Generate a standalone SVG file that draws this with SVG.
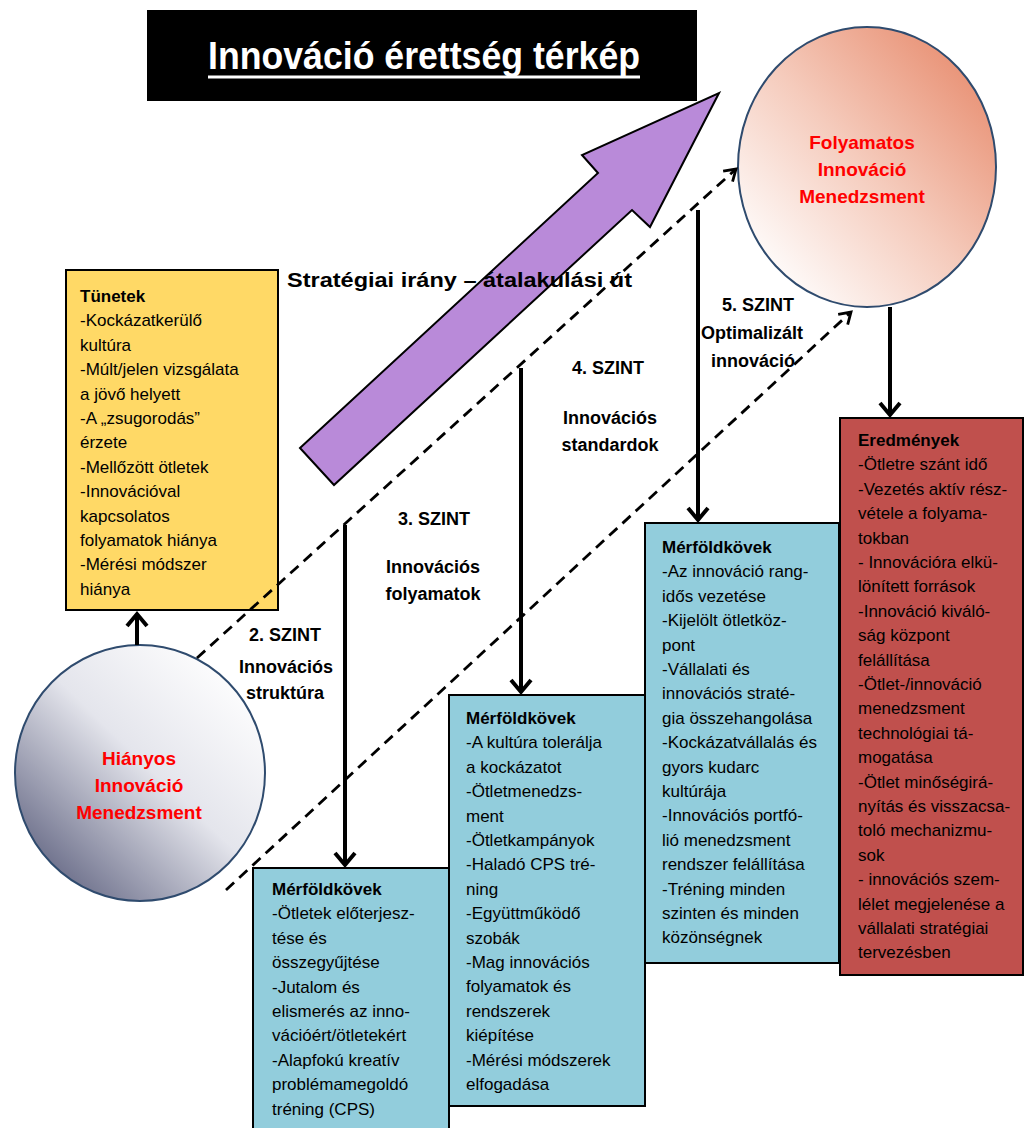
<svg xmlns="http://www.w3.org/2000/svg" width="1025" height="1128" viewBox="0 0 1025 1128">
  <defs>
    <linearGradient id="gradLow" x1="0.9" y1="0.1" x2="0.1" y2="0.95">
      <stop offset="0" stop-color="#FFFFFF"/>
      <stop offset="0.45" stop-color="#E4E5EC"/>
      <stop offset="1" stop-color="#5D607E"/>
    </linearGradient>
    <linearGradient id="gradHigh" x1="0.1" y1="0.9" x2="0.9" y2="0.1">
      <stop offset="0" stop-color="#FFFFFF"/>
      <stop offset="0.5" stop-color="#F5CBBC"/>
      <stop offset="1" stop-color="#E88F72"/>
    </linearGradient>
    <marker id="headSolid" markerUnits="userSpaceOnUse" orient="auto" markerWidth="30" markerHeight="30" refX="0" refY="0" viewBox="-15 -15 30 30" overflow="visible">
      <path d="M -12 -10 L 0 0 L -12 10" fill="none" stroke="#000" stroke-width="4"/>
    </marker>
    <marker id="headDash" markerUnits="userSpaceOnUse" orient="auto" markerWidth="24" markerHeight="24" refX="0" refY="0" viewBox="-12 -12 24 24" overflow="visible">
      <path d="M -11 -7 L 0 0 L -11 7" fill="none" stroke="#000" stroke-width="2.8"/>
    </marker>
  </defs>
  <style>
    .txt { font-family: "Liberation Sans", Arial, sans-serif; font-size: 17px; fill: #000; }
    .hd { font-weight: bold; }
    .lvl { font-family: "Liberation Sans", Arial, sans-serif; font-size: 18px; font-weight: bold; fill: #000; text-anchor: middle; }
    .circ { font-family: "Liberation Sans", Arial, sans-serif; font-size: 19px; font-weight: bold; fill: #FF0000; text-anchor: middle; }
    .box { stroke: #000; stroke-width: 2; }
    .yellow { fill: #FFD966; }
    .blue { fill: #92CDDC; }
    .red { fill: #C0504D; }
    .ring { stroke: #2F4B6E; stroke-width: 2; }
    .solid { fill: none; stroke: #000; stroke-width: 4; marker-end: url(#headSolid); }
    .dash { fill: none; stroke: #000; stroke-width: 2.8; stroke-dasharray: 11 7; marker-end: url(#headDash); }
  </style>

  <rect width="1025" height="1128" fill="#FFFFFF"/>

  <!-- title banner -->
  <g id="title">
    <rect x="147" y="10" width="550" height="91" fill="#000"/>
    <text x="208" y="69" font-family="'Liberation Sans', Arial, sans-serif" font-size="38" font-weight="bold" fill="#FFF" textLength="432" lengthAdjust="spacingAndGlyphs">Innováció érettség térkép</text>
    <line x1="208" y1="77" x2="640" y2="77" stroke="#FFF" stroke-width="3"/>
  </g>

  <!-- strategic direction arrow -->
  <g id="strategy-arrow">
    <polygon points="300,448 598,173 582,155 719,93 650,227 632,210 334,485" fill="#B98AD9" stroke="#000" stroke-width="2"/>
  </g>

  <!-- symptoms -->
  <g id="symptoms">
    <rect class="box yellow" x="66" y="270" width="212" height="340"/>
    <text class="txt" x="80" y="302">
      <tspan class="hd" x="80">Tünetek</tspan>
      <tspan x="80" dy="24.4">-Kockázatkerülő</tspan>
      <tspan x="80" dy="24.4">kultúra</tspan>
      <tspan x="80" dy="24.4">-Múlt/jelen vizsgálata</tspan>
      <tspan x="80" dy="24.4">a jövő helyett</tspan>
      <tspan x="80" dy="24.4">-A „zsugorodás”</tspan>
      <tspan x="80" dy="24.4">érzete</tspan>
      <tspan x="80" dy="24.4">-Mellőzött ötletek</tspan>
      <tspan x="80" dy="24.4">-Innovációval</tspan>
      <tspan x="80" dy="24.4">kapcsolatos</tspan>
      <tspan x="80" dy="24.4">folyamatok hiánya</tspan>
      <tspan x="80" dy="24.4">-Mérési módszer</tspan>
      <tspan x="80" dy="24.4">hiánya</tspan>
    </text>
  </g>

  <!-- level 2 milestones -->
  <g id="milestones-2">
    <rect class="box blue" x="253" y="868" width="196" height="270"/>
    <text class="txt" x="272" y="895">
      <tspan class="hd" x="272">Mérföldkövek</tspan>
      <tspan x="272" dy="24.4">-Ötletek előterjesz-</tspan>
      <tspan x="272" dy="24.4">tése és</tspan>
      <tspan x="272" dy="24.4">összegyűjtése</tspan>
      <tspan x="272" dy="24.4">-Jutalom és</tspan>
      <tspan x="272" dy="24.4">elismerés az inno-</tspan>
      <tspan x="272" dy="24.4">vációért/ötletekért</tspan>
      <tspan x="272" dy="24.4">-Alapfokú kreatív</tspan>
      <tspan x="272" dy="24.4">problémamegoldó</tspan>
      <tspan x="272" dy="24.4">tréning (CPS)</tspan>
    </text>
  </g>

  <!-- level 3 milestones -->
  <g id="milestones-3">
    <rect class="box blue" x="449" y="695" width="196" height="411"/>
    <text class="txt" x="466" y="724">
      <tspan class="hd" x="466">Mérföldkövek</tspan>
      <tspan x="466" dy="24.4">-A kultúra tolerálja</tspan>
      <tspan x="466" dy="24.4">a kockázatot</tspan>
      <tspan x="466" dy="24.4">-Ötletmenedzs-</tspan>
      <tspan x="466" dy="24.4">ment</tspan>
      <tspan x="466" dy="24.4">-Ötletkampányok</tspan>
      <tspan x="466" dy="24.4">-Haladó CPS tré-</tspan>
      <tspan x="466" dy="24.4">ning</tspan>
      <tspan x="466" dy="24.4">-Együttműködő</tspan>
      <tspan x="466" dy="24.4">szobák</tspan>
      <tspan x="466" dy="24.4">-Mag innovációs</tspan>
      <tspan x="466" dy="24.4">folyamatok és</tspan>
      <tspan x="466" dy="24.4">rendszerek</tspan>
      <tspan x="466" dy="24.4">kiépítése</tspan>
      <tspan x="466" dy="24.4">-Mérési módszerek</tspan>
      <tspan x="466" dy="24.4">elfogadása</tspan>
    </text>
  </g>

  <!-- level 4 milestones -->
  <g id="milestones-4">
    <rect class="box blue" x="645" y="523" width="194" height="440"/>
    <text class="txt" x="662" y="553">
      <tspan class="hd" x="662">Mérföldkövek</tspan>
      <tspan x="662" dy="24.4">-Az innováció rang-</tspan>
      <tspan x="662" dy="24.4">idős vezetése</tspan>
      <tspan x="662" dy="24.4">-Kijelölt ötletköz-</tspan>
      <tspan x="662" dy="24.4">pont</tspan>
      <tspan x="662" dy="24.4">-Vállalati és</tspan>
      <tspan x="662" dy="24.4">innovációs straté-</tspan>
      <tspan x="662" dy="24.4">gia összehangolása</tspan>
      <tspan x="662" dy="24.4">-Kockázatvállalás és</tspan>
      <tspan x="662" dy="24.4">gyors kudarc</tspan>
      <tspan x="662" dy="24.4">kultúrája</tspan>
      <tspan x="662" dy="24.4">-Innovációs portfó-</tspan>
      <tspan x="662" dy="24.4">lió menedzsment</tspan>
      <tspan x="662" dy="24.4">rendszer felállítása</tspan>
      <tspan x="662" dy="24.4">-Tréning minden</tspan>
      <tspan x="662" dy="24.4">szinten és minden</tspan>
      <tspan x="662" dy="24.4">közönségnek</tspan>
    </text>
  </g>

  <!-- results -->
  <g id="results">
    <rect class="box red" x="840" y="418" width="183" height="557"/>
    <text class="txt" x="858" y="446">
      <tspan class="hd" x="858">Eredmények</tspan>
      <tspan x="858" dy="24.4">-Ötletre szánt idő</tspan>
      <tspan x="858" dy="24.4">-Vezetés aktív rész-</tspan>
      <tspan x="858" dy="24.4">vétele a folyama-</tspan>
      <tspan x="858" dy="24.4">tokban</tspan>
      <tspan x="858" dy="24.4">- Innovációra elkü-</tspan>
      <tspan x="858" dy="24.4">lönített források</tspan>
      <tspan x="858" dy="24.4">-Innováció kiváló-</tspan>
      <tspan x="858" dy="24.4">ság központ</tspan>
      <tspan x="858" dy="24.4">felállítása</tspan>
      <tspan x="858" dy="24.4">-Ötlet-/innováció</tspan>
      <tspan x="858" dy="24.4">menedzsment</tspan>
      <tspan x="858" dy="24.4">technológiai tá-</tspan>
      <tspan x="858" dy="24.4">mogatása</tspan>
      <tspan x="858" dy="24.4">-Ötlet minőségirá-</tspan>
      <tspan x="858" dy="24.4">nyítás és visszacsa-</tspan>
      <tspan x="858" dy="24.4">toló mechanizmu-</tspan>
      <tspan x="858" dy="24.4">sok</tspan>
      <tspan x="858" dy="24.4">- innovációs szem-</tspan>
      <tspan x="858" dy="24.4">lélet megjelenése a</tspan>
      <tspan x="858" dy="24.4">vállalati stratégiai</tspan>
      <tspan x="858" dy="24.4">tervezésben</tspan>
    </text>
  </g>

  <!-- starting state -->
  <g id="state-low">
    <ellipse class="ring" cx="140" cy="773" rx="125" ry="128" fill="url(#gradLow)"/>
    <text class="circ" x="139" y="765">Hiányos</text>
    <text class="circ" x="139" y="792">Innováció</text>
    <text class="circ" x="139" y="819">Menedzsment</text>
  </g>

  <!-- target state -->
  <g id="state-high">
    <ellipse class="ring" cx="867" cy="167" rx="129" ry="140" fill="url(#gradHigh)"/>
    <text class="circ" x="862" y="149">Folyamatos</text>
    <text class="circ" x="862" y="176">Innováció</text>
    <text class="circ" x="862" y="203">Menedzsment</text>
  </g>

  <!-- connectors -->
  <g id="connectors">
    <path class="dash" d="M 197 658 L 736 169"/>
    <path class="dash" d="M 226 890 L 851 312"/>
    <path class="solid" d="M 137 645 L 137 614"/>
    <path class="solid" d="M 345 525 L 345 865"/>
    <path class="solid" d="M 521 368 L 521 692"/>
    <path class="solid" d="M 698 210 L 698 520"/>
    <path class="solid" d="M 890 307 L 890 415"/>
  </g>

  <!-- level labels -->
  <g id="labels">
    <text x="287" y="287" font-family="'Liberation Sans', Arial, sans-serif" font-size="20" font-weight="bold" textLength="345" lengthAdjust="spacingAndGlyphs">Stratégiai irány – átalakulási út</text>
    <text class="lvl" x="285" y="641">2. SZINT</text>
    <text class="lvl" x="286" y="673">Innovációs</text>
    <text class="lvl" x="285" y="699">struktúra</text>
    <text class="lvl" x="434" y="525">3. SZINT</text>
    <text class="lvl" x="433" y="573">Innovációs</text>
    <text class="lvl" x="433" y="600">folyamatok</text>
    <text class="lvl" x="608" y="374">4. SZINT</text>
    <text class="lvl" x="610" y="424">Innovációs</text>
    <text class="lvl" x="610" y="451">standardok</text>
    <text class="lvl" x="758" y="311">5. SZINT</text>
    <text class="lvl" x="752" y="339">Optimalizált</text>
    <text class="lvl" x="753" y="367">innováció</text>
  </g>
</svg>
